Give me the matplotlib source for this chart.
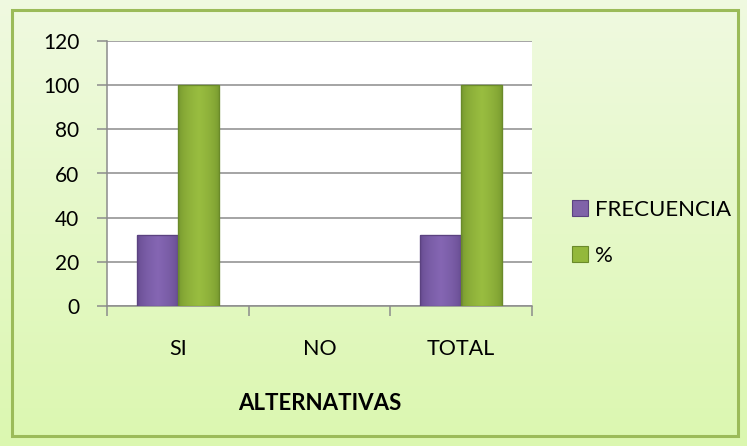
import matplotlib
matplotlib.use("Agg")
import matplotlib.pyplot as plt
import numpy as np
from matplotlib.patches import Rectangle

plt.rcParams['font.family'] = ['Lato', 'DejaVu Sans']

categories = ['SI', 'NO', 'TOTAL']
frecuencia = [32, 0, 32]
porcentaje = [100, 0, 100]
y_ticks = [0, 20, 40, 60, 80, 100, 120]

fig = plt.figure(figsize=(7.47, 4.46), dpi=100)

# background gradient for the chart area
bg = fig.add_axes([0, 0, 1, 1], zorder=-10)
grad = np.linspace(0, 1, 256).reshape(-1, 1)
top = np.array([0.94, 0.98, 0.88])
bottom = np.array([0.86, 0.97, 0.69])
img = top + (bottom - top) * grad[:, :, None]
bg.imshow(img, aspect='auto', extent=[0, 1, 0, 1], origin='upper')
bg.set_xlim(0, 1)
bg.set_ylim(0, 1)
bg.axis('off')
bg.add_patch(Rectangle((12 / 747, 10 / 446), 726 / 747, 426 / 446, fill=False,
                       edgecolor='#9bbb59', linewidth=2.2))

ax = fig.add_axes([107 / 747, 1 - 306 / 446, 425 / 747, 265 / 446])
ax.set_facecolor('white')

x = np.arange(len(categories))
w = 0.29
b1 = ax.bar(x - w / 2, frecuencia, w, color='#8063a8', edgecolor='#5b4280', linewidth=0.8,
            label='FRECUENCIA', zorder=3)
b2 = ax.bar(x + w / 2, porcentaje, w, color='#93b83b', edgecolor='#6a8a2a', linewidth=0.8,
            label='%', zorder=3)

# simple shading on bars
def shade(bars, c_light, c_dark):
    for p in bars:
        h = p.get_height()
        if h <= 0:
            continue
        x0, wd = p.get_x(), p.get_width()
        g = np.linspace(0, 1, 64)
        prof = 1 - np.abs(g - 0.5) * 2
        cols = np.array(c_dark) + (np.array(c_light) - np.array(c_dark)) * prof[:, None] ** 0.4
        ax.imshow(cols[None, :, :], aspect='auto', extent=[x0, x0 + wd, 0, h], zorder=3.5)
        ax.add_patch(Rectangle((x0, 0), wd, h, fill=False, edgecolor=p.get_edgecolor(),
                               linewidth=0.9, zorder=4))

shade(b1, (0.52, 0.40, 0.70), (0.36, 0.26, 0.52))
shade(b2, (0.60, 0.74, 0.25), (0.42, 0.55, 0.16))

ax.set_xlim(-0.5, 2.5)
ax.set_ylim(0, 120)
ax.set_yticks(y_ticks)
ax.yaxis.grid(True, color='#8c8c8c', linewidth=1.1, zorder=0)
ax.set_axisbelow(True)
ax.tick_params(axis='y', length=7, color='#8c8c8c', width=1.1, labelsize=15, pad=13)

ax.set_xticks(x)
ax.set_xticklabels(categories)
ax.set_xticks([-0.5, 0.5, 1.5, 2.5], minor=True)
ax.tick_params(axis='x', which='major', length=0, labelsize=15.5, pad=24)
ax.tick_params(axis='x', which='minor', length=7, color='#8c8c8c', width=1.1)

for s in ['top', 'right']:
    ax.spines[s].set_visible(False)
ax.spines['left'].set_color('#8c8c8c')
ax.spines['bottom'].set_color('#8c8c8c')
ax.spines['left'].set_linewidth(1.1)
ax.spines['bottom'].set_linewidth(1.1)

ax.set_xlabel('ALTERNATIVAS', fontsize=16, fontweight='bold', labelpad=24)

leg = fig.legend(handles=[b1, b2], labels=['FRECUENCIA', '%'], loc='upper left',
                 bbox_to_anchor=(552 / 747, 1 - 180 / 446), frameon=False, fontsize=16,
                 handlelength=0.72, handleheight=0.72, handletextpad=0.3, labelspacing=1.15)

fig.savefig('out.png', dpi=100)
